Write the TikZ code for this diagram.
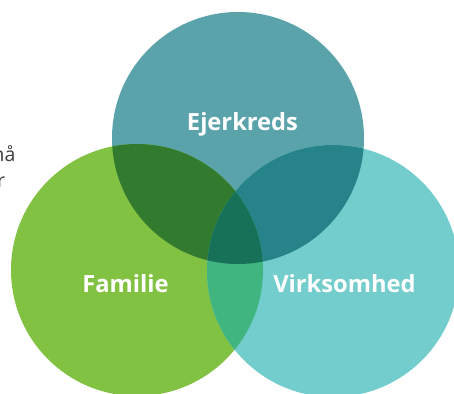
\documentclass[tikz,border=0pt]{standalone}
\usepackage{fontspec}
\setmainfont{Open Sans}
\usepackage{tikz}
\usetikzlibrary{positioning}
\definecolor{ownercolor}{RGB}{91, 163, 170}
\definecolor{familycolor}{RGB}{130, 194, 66}
\definecolor{businesscolor}{RGB}{114, 205, 204}
\definecolor{ofcolor}{RGB}{50, 122, 46}
\definecolor{obcolor}{RGB}{39, 131, 138}
\definecolor{fbcolor}{RGB}{64, 181, 128}
\definecolor{allcolor}{RGB}{23, 112, 88}
\definecolor{textgray}{RGB}{60, 60, 60}
\tikzset{
  venn/.style={circle, minimum size=252pt, inner sep=0pt, draw=none},
  vennlabel/.style={anchor=base, text=white, font=\fontsize{23.7}{28}\selectfont\bfseries},
  sidetext/.style={anchor=base east, text=textgray, font=\fontsize{19.5}{23}\selectfont}
}

\begin{document}
\begin{tikzpicture}[x=1pt, y=-1pt]
    \useasboundingbox (0,0) rectangle (454,393);
    \begin{scope}
        \clip (0,0) rectangle (454,393);
        % Circles
        \node[venn, fill=ownercolor] (owner) at (238,138) {};
        \node[venn, fill=familycolor] (family) at (137,270) {};
        \node[venn, fill=businesscolor] (business) at (333,271) {};

        % Pairwise overlaps
        \begin{scope}
            \clip (owner.center) circle (126pt);
            \fill[ofcolor] (family.center) circle (126pt);
            \fill[obcolor] (business.center) circle (126pt);
        \end{scope}
        \begin{scope}
            \clip (family.center) circle (126pt);
            \fill[fbcolor] (business.center) circle (126pt);
        \end{scope}

        % Centre overlap
        \begin{scope}
            \clip (owner.center) circle (126pt);
            \clip (family.center) circle (126pt);
            \fill[allcolor] (business.center) circle (126pt);
        \end{scope}

        % Labels
        \node[vennlabel] (ownerlabel) at (242.5,130) {Ejerkreds};
        \node[vennlabel] (familylabel) at (125.5,292.5) {Familie};
        \node[vennlabel] (businesslabel) at (344.5,292.5) {Virksomhed};

        % Cut-off text on the left
        \node[sidetext] (textone) at (19,161) {må};
        \node[sidetext] (texttwo) at (8.5,187) {r};
    \end{scope}
\end{tikzpicture}
\end{document}
